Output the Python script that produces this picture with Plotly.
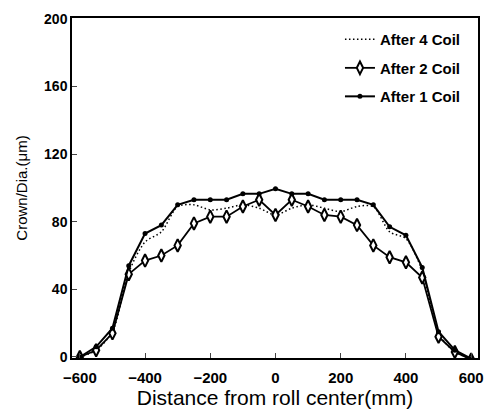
import plotly.graph_objects as go

x_mm = [-600, -550, -500, -450, -400, -350, -300, -250, -200, -150, -100, -50, 0,
        50, 100, 150, 200, 250, 300, 350, 400, 450, 500, 550, 600]

after4 = [0, 4, 15, 50, 68, 74, 89, 90, 87, 88, 90, 88, 84,
          88, 90, 88, 86, 89, 89, 74, 70, 51, 14, 3, -1]
after2 = [0, 4, 14, 49, 57, 60, 66, 79, 83, 83, 89, 93, 84,
          93, 89, 84, 83, 78, 66, 59, 56, 47, 12, 3, -1.5]
after1 = [0, 6, 17, 54, 73, 78, 90, 93, 93, 93, 96.5, 96.5, 99.5,
          96.5, 96.5, 93, 93, 93, 90, 77, 72, 53, 15, 4, -1]

x_ticks = [-600, -400, -200, 0, 200, 400, 600]
y_ticks = [0, 40, 80, 120, 160, 200]

font_family = "Liberation Sans, Arial, sans-serif"

fig = go.Figure()
fig.add_trace(go.Scatter(
    x=x_mm, y=after4, name="After 4 Coil", mode="lines",
    line=dict(color="black", width=1.5, dash="1.5px,2.5px", shape="spline", smoothing=0.8),
    legendgroup="a4"))
fig.add_trace(go.Scatter(
    x=x_mm, y=after2, name="After 2 Coil", mode="lines+markers",
    line=dict(color="black", width=1.8),
    marker=dict(symbol="diamond-tall", size=9, color="white",
                line=dict(color="black", width=2)),
    legendgroup="a2"))
fig.add_trace(go.Scatter(
    x=x_mm, y=after1, name="After 1 Coil", mode="lines+markers",
    line=dict(color="black", width=2),
    marker=dict(symbol="circle", size=5, color="black"),
    legendgroup="a1"))

fig.update_layout(
    width=495, height=418,
    margin=dict(l=72, r=11, t=14, b=60),
    paper_bgcolor="white", plot_bgcolor="white",
    font=dict(family=font_family, color="black"),
    showlegend=True,
    legend=dict(x=0.66, y=0.985, xanchor="left", yanchor="top",
                bgcolor="rgba(0,0,0,0)", traceorder="grouped", tracegroupgap=6,
                font=dict(size=15, weight="bold", family=font_family)),
    xaxis=dict(range=[-624, 621], tickvals=x_ticks, ticks="inside", ticklen=5,
               tickwidth=1.2, showline=True, linecolor="black", linewidth=1.5,
               mirror=True, showgrid=False, zeroline=False,
               ticklabelstandoff=5,
               tickfont=dict(size=15, weight="bold"),
               title=dict(text="Distance from roll center(mm)",
                          font=dict(size=21), standoff=4)),
    yaxis=dict(range=[-0.6, 200.5], tickvals=y_ticks, ticks="inside", ticklen=5,
               tickwidth=1.2, showline=True, linecolor="black", linewidth=1.5,
               mirror=True, showgrid=False, zeroline=False,
               tickfont=dict(size=14, weight="bold"),
               title=dict(text="Crown/Dia.(μm)", font=dict(size=15),
                          standoff=13)),
)

fig.write_html("out.html")
